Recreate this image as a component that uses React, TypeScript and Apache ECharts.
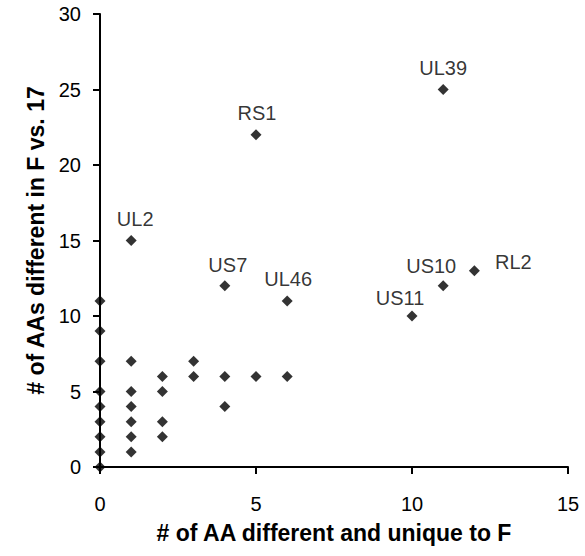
import React, { useEffect, useRef } from "react";
import * as echarts from "echarts";

// Unlabelled points [x, y]
const clusterX = [0, 0, 0, 0, 0, 0, 0, 0, 0, 1, 1, 1, 1, 1, 1, 2, 2, 2, 2, 3, 3, 4, 4, 5, 6];
const clusterY = [0, 1, 2, 3, 4, 5, 7, 9, 11, 1, 2, 3, 4, 5, 7, 2, 3, 5, 6, 6, 7, 4, 6, 6, 6];

// Labelled points
const labelNames = ["UL2", "RS1", "UL39", "US7", "UL46", "US10", "RL2", "US11"];
const labelX = [1, 5, 11, 4, 6, 11, 12, 10];
const labelY = [15, 22, 25, 12, 11, 12, 13, 10];

const xTicks = { min: 0, max: 15, interval: 5 };
const yTicks = { min: 0, max: 30, interval: 5 };

const xTitle = "# of AA different and unique to F";
const yTitle = "# of AAs different in F vs. 17";

// label offsets (layout only)
const labelOffsets: Record<string, [number, number]> = {
  UL2: [4, -22],
  RS1: [1, -22],
  UL39: [0, -22],
  US7: [3, -21],
  UL46: [1, -22],
  US10: [-12, -20],
  RL2: [39, -9],
  US11: [-12, -18],
};

const FONT = "Arial, 'Liberation Sans', sans-serif";

export default function App() {
  const ref = useRef<HTMLDivElement>(null);
  useEffect(() => {
    if (!ref.current) return;
    const chart = echarts.init(ref.current, undefined, { renderer: "svg" });
    const cluster = clusterX.map((x, i) => [x, clusterY[i]]);
    const labelled = labelNames.map((n, i) => ({
      value: [labelX[i], labelY[i]],
      name: n,
      label: {
        show: true,
        formatter: n,
        position: "inside",
        align: "center",
        verticalAlign: "middle",
        offset: labelOffsets[n],
        color: "#000",
        fontSize: 20,
        fontFamily: FONT,
      },
    }));
    const axisCommon = {
      axisLine: { show: true, lineStyle: { color: "#000", width: 2 } },
      axisTick: { show: true, length: 7, lineStyle: { color: "#000", width: 2 } },
      splitLine: { show: false },
      axisLabel: { color: "#000", fontSize: 20, fontFamily: FONT },
      nameLocation: "middle" as const,
      nameTextStyle: { color: "#000", fontSize: 23, fontWeight: "bold" as const, fontFamily: FONT },
    };
    chart.setOption({
      animation: false,
      backgroundColor: "#fff",
      grid: { left: 100, right: 17, top: 14, bottom: 89, containLabel: false },
      xAxis: {
        type: "value",
        ...xTicks,
        ...axisCommon,
        name: xTitle,
        nameGap: 54,
        axisLabel: { ...axisCommon.axisLabel, margin: 27 },
      },
      yAxis: {
        type: "value",
        ...yTicks,
        ...axisCommon,
        name: yTitle,
        nameGap: 44,
        axisLabel: { ...axisCommon.axisLabel, margin: 19 },
      },
      series: [
        {
          type: "scatter",
          symbol: "diamond",
          symbolSize: 11,
          itemStyle: { color: "#000" },
          data: cluster,
          z: 3,
        },
        {
          type: "scatter",
          symbol: "diamond",
          symbolSize: 11,
          itemStyle: { color: "#000" },
          data: labelled,
          z: 3,
        },
      ],
    });
    return () => chart.dispose();
  }, []);
  return (
    <div
      ref={ref}
      style={{ position: "fixed", left: 0, top: 0, width: 585, height: 556 }}
    />
  );
}
